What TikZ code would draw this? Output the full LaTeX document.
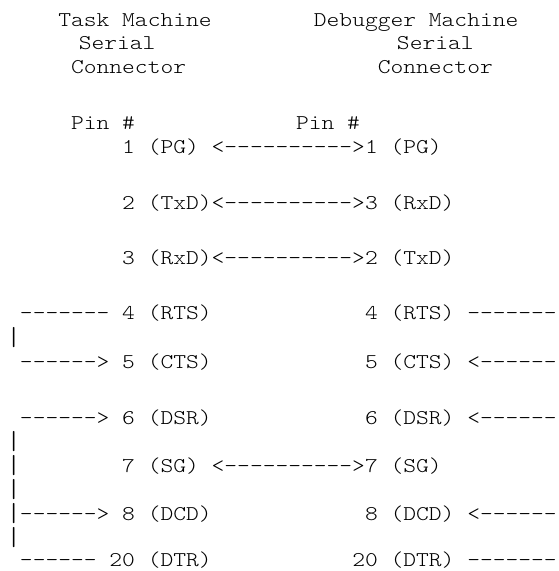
\documentclass[tikz,border=0pt]{standalone}
\usepackage{fontspec}
\setmonofont{lmmonolt10-regular.otf}[Ligatures=TeXOff,FakeStretch=1.159]

\begin{document}
\begin{tikzpicture}
  [x=12.78pt,y=-1pt,every node/.style={anchor=base west,inner sep=0pt,
   font={\ttfamily\fontsize{21pt}{24pt}\selectfont}},
   vbar/.style={font={\ttfamily\fontsize{26pt}{28pt}\selectfont}}]
  \useasboundingbox (-0.548,0) rectangle (43.19,571);

  % headings
  \node (tm) at (4,26.5)    {Task Machine};
  \node (dm) at (24,26.5)   {Debugger Machine};
  \node (ts) at (5.6,49.5)  {Serial};
  \node (ds) at (30.5,49.5) {Serial};
  \node (tc) at (5,73.5)    {Connector};
  \node (dc) at (29,73.5)   {Connector};
  \node (tp) at (5,129.5)   {Pin \#};
  \node (dp) at (22.6,129.5){Pin \#};

  % pins
  \foreach \n/\lt/\rt/\y in {1/1 (PG)/1 (PG)/153.5, 2/2 (TxD)/3 (RxD)/209.5,
      3/3 (RxD)/2 (TxD)/264.5, 4/4 (RTS)/4 (RTS)/319.5, 5/5 (CTS)/5 (CTS)/368.5,
      6/6 (DSR)/6 (DSR)/424.5, 7/7 (SG)/7 (SG)/472.5, 8/8 (DCD)/8 (DCD)/520.5}
  {
    \node (l\n) at (9,\y)  {\lt};
    \node (r\n) at (28,\y) {\rt};
  }
  \node (l20) at (8,566.5)  {20 (DTR)};
  \node (r20) at (27,566.5) {20 (DTR)};

  % crossed lines
  \foreach \n/\y in {1/153.5,2/209.5,3/264.5,7/472.5}
    \node (x\n) at (16,\y) {<---------->};

  % loop backs
  \foreach \n/\lw/\rw/\y in {4/-------/-------/319.5, 5/------>/<------/368.5,
      6/------>/<------/424.5, 8/------>/<------/520.5, 20/------/-------/566.5}
  {
    \node (lw\n) at (1,\y)  {\lw};
    \node (rw\n) at (36,\y) {\rw};
  }
  \foreach \y [count=\i] in {345,449,473,497,521,545}
    \node[vbar] (bar\i) at (-0.1,\y) {|};
\end{tikzpicture}
\end{document}
